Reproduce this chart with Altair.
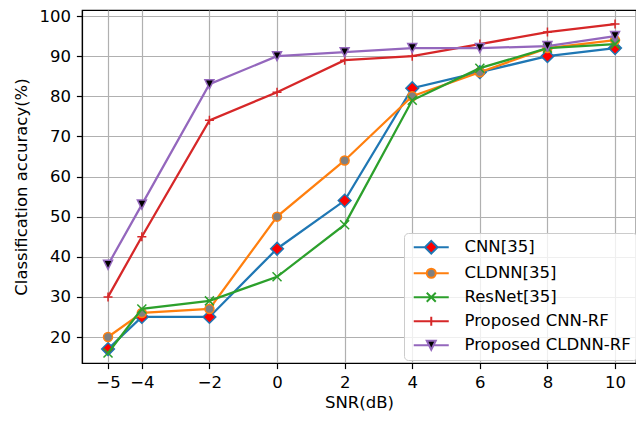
import altair as alt
import pandas as pd

snr = [-5, -4, -2, 0, 2, 4, 6, 8, 10]
cnn = [17, 25, 25, 42, 54, 82, 86, 90, 92]
cldnn = [20, 26, 27, 50, 64, 80, 86, 92, 94]
resnet = [16, 27, 29, 35, 48, 79, 87, 92, 93]
cnn_rf = [30, 45, 74, 81, 89, 90, 93, 96, 98]
cldnn_rf = [38, 53, 83, 90, 91, 92, 92, 92.5, 95]

names = ["CNN[35]", "CLDNN[35]", "ResNet[35]", "Proposed CNN-RF", "Proposed CLDNN-RF"]
series = [cnn, cldnn, resnet, cnn_rf, cldnn_rf]
line_colors = ["#1f77b4", "#ff7f0e", "#2ca02c", "#d62728", "#9467bd"]
marker_fills = ["red", "gray", "transparent", "transparent", "black"]

# marker shapes for the plot (unit box -1..1)
plot_shapes = [
    "M0,-1L1,0L0,1L-1,0Z",
    "circle",
    "M-1,-1L1,1M1,-1L-1,1",
    "M-1,0L1,0M0,-1L0,1",
    "M-1,-1L1,-1L0,1Z",
]
plot_sizes = [161, 81, 81, 81, 81]

# legend handles: line segment + marker
legend_shapes = [
    "M-1,0H1.48M4.3,0H6.78M2.89,-1.41L4.3,0L2.89,1.41L1.48,0Z",
    "M-1,0H1.89M3.89,0H6.78M1.89,0A1,1 0 1,0 3.89,0A1,1 0 1,0 1.89,0Z",
    "M-1,0H6.78M1.89,-1L3.89,1M3.89,-1L1.89,1",
    "M-1,0H6.78M2.89,-1V1",
    "M-1,0H2.39M3.39,0H6.78M1.89,-1L3.89,-1L2.89,1Z",
]

rows = []
for n, vals in zip(names, series):
    for x, y in zip(snr, vals):
        rows.append({"snr": x, "acc": y, "model": n})
df = pd.DataFrame(rows)

xs = alt.Scale(domain=[-5.77, 10.62], nice=False, zero=False)
ys = alt.Scale(domain=[13.52, 101.5], nice=False, zero=False)

xax = alt.Axis(values=snr, title="SNR(dB)",
               labelExpr="replace(datum.label, '-', '\u2212')")
yax = alt.Axis(values=list(range(20, 101, 10)), title="Classification accuracy(%)")

X = alt.X("snr:Q", scale=xs, axis=xax)
Y = alt.Y("acc:Q", scale=ys, axis=yax)

legend_layer = alt.Chart(df).mark_point(opacity=0, size=81).encode(
    x=X, y=Y,
    shape=alt.Shape("model:N", scale=alt.Scale(domain=names, range=legend_shapes),
                    legend=alt.Legend(title=None)),
    fill=alt.Fill("model:N", scale=alt.Scale(domain=names, range=marker_fills),
                  legend=alt.Legend(title=None)),
    stroke=alt.Stroke("model:N", scale=alt.Scale(domain=names, range=line_colors),
                      legend=alt.Legend(title=None)),
)

layers = [legend_layer]
for i, n in enumerate(names):
    base = alt.Chart(df).transform_filter(alt.datum.model == n)
    layers.append(base.mark_line(color=line_colors[i], strokeWidth=2.25).encode(x=X, y=Y))
    layers.append(base.mark_point(shape=plot_shapes[i], size=plot_sizes[i], filled=True,
                                  fill=marker_fills[i], stroke=line_colors[i],
                                  strokeWidth=1.5, opacity=1).encode(x=X, y=Y))

chart = alt.layer(*layers).properties(
    width=554, height=353,
    autosize=alt.AutoSizeParams(type="none"),
    padding={"left": 74, "top": 2, "right": 0, "bottom": 50},
).configure_view(stroke="black", strokeWidth=1.2).configure_axis(
    labelFont="DejaVu Sans", titleFont="DejaVu Sans",
    labelFontSize=16.5, titleFontSize=16.5, titleFontWeight="normal",
    labelColor="black", titleColor="black",
    domainColor="black", domainWidth=1.2,
    tickColor="black", tickSize=5.6, tickWidth=1.2,
    grid=True, gridColor="#b0b0b0", gridWidth=1.2,
).configure_axisX(titlePadding=3, labelPadding=6).configure_axisY(
    titlePadding=9, labelPadding=6
).configure_legend(
    orient="none", legendX=322, legendY=223,
    padding=6, fillColor="rgba(255,255,255,0.8)", strokeColor="#cccccc",
    cornerRadius=4, labelFont="DejaVu Sans", labelFontSize=16.5, labelColor="black",
    symbolSize=81, symbolStrokeWidth=2, symbolOpacity=1, labelOffset=38,
    rowPadding=6, labelLimit=400,
)

chart.save("out.html", embed_options={"renderer": "svg", "actions": False})
